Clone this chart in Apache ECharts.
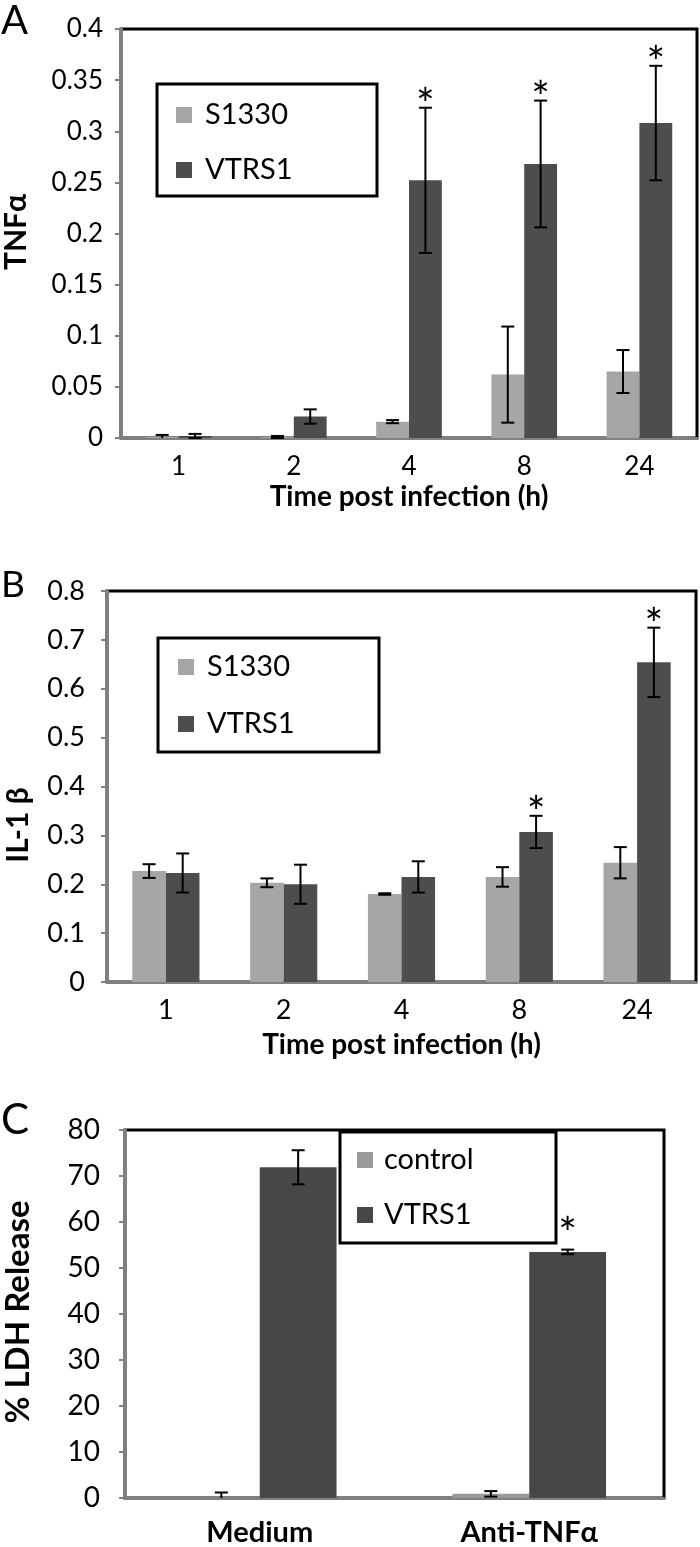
<!DOCTYPE html>
<html>
<head>
<meta charset="utf-8">
<script src="https://cdn.jsdelivr.net/npm/echarts@6/dist/echarts.min.js"></script>
<style>
html,body{margin:0;padding:0;background:#fff;}
#chart{width:700px;height:1547px;}
</style>
</head>
<body>
<div id="chart"></div>
<script>
// ---------- data ----------
const categoriesAB = ['1', '2', '4', '8', '24'];

const tnfS1330    = [0.001, 0.001, 0.016, 0.062, 0.065];
const tnfS1330Err = [0.002, 0.001, 0.0015, 0.047, 0.021];
const tnfVTRS1    = [0.002, 0.021, 0.252, 0.268, 0.308];
const tnfVTRS1Err = [0.002, 0.007, 0.071, 0.062, 0.056];
const tnfVTRS1Star = [0, 0, 1, 1, 1];

const il1S1330    = [0.227, 0.203, 0.180, 0.215, 0.244];
const il1S1330Err = [0.014, 0.009, 0.0015, 0.020, 0.032];
const il1VTRS1    = [0.223, 0.200, 0.215, 0.307, 0.654];
const il1VTRS1Err = [0.040, 0.040, 0.032, 0.033, 0.071];
const il1VTRS1Star = [0, 0, 0, 1, 1];

const categoriesC = ['Medium', 'Anti-TNFα'];
const ldhControl    = [0, 0.9];
const ldhControlErr = [1.2, 0.6];
const ldhVTRS1      = [71.9, 53.5];
const ldhVTRS1Err   = [3.7, 0.5];
const ldhVTRS1Star  = [0, 1];

const noStar5 = [0, 0, 0, 0, 0];
const noStar2 = [0, 0];

// ---------- styles ----------
const LIGHT = '#a6a6a6';
const DARK = '#4d4d4d';
const LIGHT_C = '#999999';
const DARK_C = '#474747';
const AXIS = '#808080';
const GAP = 0.43;
const FONT = 'Lato';

function errData(vals, errs, stars) {
  return vals.map((v, i) => [i, v, errs[i], stars[i]]);
}

function makeErr(pos, starGap) {
  return function (params, api) {
    const i = api.value(0), v = api.value(1), e = api.value(2), s = api.value(3);
    const band = api.size([1, 0])[0];
    const bw = band * (1 - GAP) / 2;
    const cx = api.coord([i, v])[0] + (pos === 0 ? -bw / 2 : bw / 2);
    const yTop = api.coord([i, v + e])[1];
    const lo = v - e;
    const yBot = api.coord([i, Math.max(lo, 0)])[1];
    const half = 6.5;
    const st = { stroke: '#000', lineWidth: 2 };
    const ch = [
      { type: 'line', shape: { x1: cx, y1: yTop, x2: cx, y2: yBot }, style: st },
      { type: 'line', shape: { x1: cx - half, y1: yTop, x2: cx + half, y2: yTop }, style: st }
    ];
    if (lo >= 0) {
      ch.push({ type: 'line', shape: { x1: cx - half, y1: yBot, x2: cx + half, y2: yBot }, style: st });
    }
    if (s) {
      ch.push({
        type: 'text',
        style: { text: '*', x: cx, y: yTop - starGap + 9, align: 'center', verticalAlign: 'middle',
                 font: 'normal 44px ' + FONT, fill: '#000' }
      });
    }
    return { type: 'group', children: ch };
  };
}

function xAxisCfg(idx, cats, fontSize, bold, margin, name, nameGap) {
  return {
    gridIndex: idx, type: 'category', data: cats,
    axisLine: { lineStyle: { color: AXIS, width: 3 } },
    axisTick: { length: 8, lineStyle: { color: AXIS, width: 2 } },
    axisLabel: { color: '#000', fontSize: fontSize, fontFamily: FONT, fontWeight: bold ? 'bold' : 'normal', margin: margin },
    name: name, nameLocation: 'middle', nameGap: nameGap,
    nameTextStyle: { color: '#000', fontSize: 28, fontWeight: 'bold', fontFamily: FONT }
  };
}

function yAxisCfg(idx, max, interval, fontSize, margin) {
  return {
    gridIndex: idx, type: 'value', min: 0, max: max, interval: interval,
    axisLine: { show: true, lineStyle: { color: AXIS, width: 3 } },
    axisTick: { show: true, length: 6, lineStyle: { color: AXIS, width: 2 } },
    splitLine: { show: false },
    axisLabel: { color: '#000', fontSize: fontSize, fontFamily: FONT, margin: margin }
  };
}

function legendCfg(left, top, gap, names, colors, textPad) {
  return {
    orient: 'vertical', left: left, top: top, itemWidth: 16, itemHeight: 16, itemGap: gap,
    padding: 0, icon: 'rect', selectedMode: false, z: 10,
    data: names.map((n, i) => ({ name: n, itemStyle: { color: colors[i] } })),
    textStyle: { fontSize: 29, fontFamily: FONT, color: '#000', lineHeight: 30, padding: [0, 0, 0, textPad] }
  };
}

function barSeries(name, idx, data, color) {
  return {
    type: 'bar', name: name, xAxisIndex: idx, yAxisIndex: idx, data: data,
    barGap: '0%', barCategoryGap: (GAP * 100) + '%',
    itemStyle: { color: color }, z: 2
  };
}

function errSeries(name, idx, data, pos, starGap) {
  return {
    type: 'custom', name: name, xAxisIndex: idx, yAxisIndex: idx,
    data: data, renderItem: makeErr(pos, starGap), z: 5, silent: true
  };
}

const chart = echarts.init(document.getElementById('chart'), null, { renderer: 'canvas' });

const option = {
  animation: false,
  backgroundColor: '#fff',
  textStyle: { fontFamily: FONT },
  grid: [
    { left: 121, top: 29, width: 576, height: 409, show: true, borderColor: '#000', borderWidth: 3 },
    { left: 107, top: 591, width: 589, height: 391, show: true, borderColor: '#000', borderWidth: 3 },
    { left: 125, top: 1130, width: 539, height: 374, show: true, borderColor: '#000', borderWidth: 3 }
  ],
  xAxis: [
    xAxisCfg(0, categoriesAB, 26, false, 16, 'Time post infection (h)', 45),
    xAxisCfg(1, categoriesAB, 27, false, 15, 'Time post infection (h)', 49),
    xAxisCfg(2, categoriesC, 29, true, 20, '', 0)
  ],
  yAxis: [
    yAxisCfg(0, 0.4, 0.05, 26, 18),
    yAxisCfg(1, 0.8, 0.1, 27, 22),
    yAxisCfg(2, 80, 10, 28, 25)
  ],
  legend: [
    legendCfg(176, 100, 25, ['S1330', 'VTRS1'], [LIGHT, DARK], 8),
    legendCfg(178, 652, 27, ['S1330', 'VTRS1'], [LIGHT, DARK], 8),
    legendCfg(357, 1145, 25, ['control', 'VTRS1'], [LIGHT_C, DARK_C], 6)
  ],
  graphic: [
    { type: 'rect', z: 3, shape: { x: 157, y: 84, width: 220, height: 112 }, style: { fill: '#fff', stroke: '#000', lineWidth: 3 } },
    { type: 'rect', z: 3, shape: { x: 158, y: 638, width: 221, height: 114 }, style: { fill: '#fff', stroke: '#000', lineWidth: 3 } },
    { type: 'rect', z: 3, shape: { x: 340, y: 1132, width: 216, height: 111 }, style: { fill: '#fff', stroke: '#000', lineWidth: 3 } },
    { type: 'text', z: 3, x: 1, y: 21, style: { text: 'A', font: 'normal 40px ' + FONT, fill: '#000', align: 'left', verticalAlign: 'middle' } },
    { type: 'text', z: 3, x: 1, y: 585, style: { text: 'B', font: 'normal 37px ' + FONT, fill: '#000', align: 'left', verticalAlign: 'middle' } },
    { type: 'text', z: 3, x: 1, y: 1120, style: { text: 'C', font: 'normal 42px ' + FONT, fill: '#000', align: 'left', verticalAlign: 'middle' } },
    { type: 'text', z: 3, x: 16, y: 232, rotation: Math.PI / 2, style: { text: 'TNFα', font: 'bold 30px ' + FONT, fill: '#000', align: 'center', verticalAlign: 'middle' } },
    { type: 'text', z: 3, x: 18, y: 825, rotation: Math.PI / 2, style: { text: 'IL-1 β', font: 'bold 30px ' + FONT, fill: '#000', align: 'center', verticalAlign: 'middle' } },
    { type: 'text', z: 3, x: 18, y: 1312, rotation: Math.PI / 2, style: { text: '% LDH Release', font: 'bold 33px ' + FONT, fill: '#000', align: 'center', verticalAlign: 'middle' } }
  ],
  series: [
    barSeries('S1330', 0, tnfS1330, LIGHT),
    barSeries('VTRS1', 0, tnfVTRS1, DARK),
    errSeries('S1330', 0, errData(tnfS1330, tnfS1330Err, noStar5), 0, 11),
    errSeries('VTRS1', 0, errData(tnfVTRS1, tnfVTRS1Err, tnfVTRS1Star), 1, 11),

    barSeries('S1330', 1, il1S1330, LIGHT),
    barSeries('VTRS1', 1, il1VTRS1, DARK),
    errSeries('S1330', 1, errData(il1S1330, il1S1330Err, noStar5), 0, 11),
    errSeries('VTRS1', 1, errData(il1VTRS1, il1VTRS1Err, il1VTRS1Star), 1, 11),

    barSeries('control', 2, ldhControl, LIGHT_C),
    barSeries('VTRS1', 2, ldhVTRS1, DARK_C),
    errSeries('control', 2, errData(ldhControl, ldhControlErr, noStar2), 0, 24),
    errSeries('VTRS1', 2, errData(ldhVTRS1, ldhVTRS1Err, ldhVTRS1Star), 1, 24)
  ]
};

chart.setOption(option);
</script>
</body>
</html>
